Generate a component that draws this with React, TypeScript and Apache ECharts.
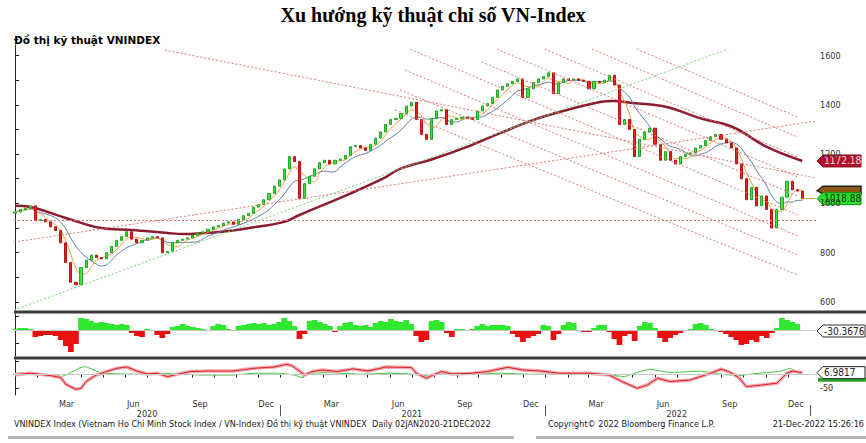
import React, { useEffect, useRef } from 'react';
import * as echarts from 'echarts';

// ---- DATA (weekly, week index 0 = 1 Jan 2020, last = 21 Dec 2022) ----
const firstOpen = 960;
const closes = [
  965, 975, 980, 990, 930, 935, 925, 905, 890, 840, 760, 680, 670,
  740, 770, 790, 780, 775, 800, 825, 850, 865, 885, 855, 840, 850,
  860, 865, 860, 800, 805, 840, 850, 855, 860, 870, 880, 885, 895,
  905, 910, 920, 925, 915, 935, 950, 960, 985, 995, 1015, 1040, 1070,
  1095, 1140, 1190, 1170, 1020, 1080, 1110, 1140, 1165, 1175, 1160, 1175, 1180,
  1195, 1230, 1235, 1225, 1215, 1240, 1265, 1290, 1320, 1340, 1345, 1365, 1395,
  1410, 1340, 1280, 1260, 1345, 1375, 1380, 1320, 1340, 1345, 1350, 1345, 1340,
  1375, 1395, 1405, 1430, 1460, 1475, 1485, 1495, 1505, 1430, 1465, 1490, 1505,
  1515, 1530, 1445, 1490, 1505, 1500, 1505, 1500, 1495, 1465, 1495, 1490, 1500,
  1520, 1480, 1320, 1340, 1300, 1190, 1260, 1290, 1305, 1240, 1175, 1210, 1175,
  1160, 1190, 1200, 1205, 1225, 1235, 1255, 1270, 1280, 1260, 1245, 1225, 1160,
  1100, 1015, 1065, 990, 1030, 975, 900, 975, 1025, 1090, 1055, 1050, 1018.88,
];

// 200-day moving average: [week, value]
const ma200 = [
  [0, 990], [3, 985], [10, 941], [17, 900], [23, 892], [30, 880], [33, 876], [40, 884],
  [46, 900], [53, 925], [56, 953], [66, 1040], [72.4, 1100], [75.8, 1140], [82.3, 1180],
  [89, 1229], [95.5, 1285], [102, 1338], [108.7, 1379], [115.2, 1411], [117.7, 1415],
  [121.7, 1407], [128.3, 1391], [134.8, 1346], [141.3, 1310], [148, 1229], [155, 1172.18],
];

// oscillator histogram (weekly)
const histogram = [
  30, 60, 60, 30, -210, -180, -150, -150, -180, -300, -480, -660, -420,
  360, 330, 270, 210, 240, 210, 180, 150, 180, 150, -90, -180, -210,
  30, 0, -150, -240, -120, 90, 120, 180, 120, 90, 60, 30, 0,
  120, 180, 150, 30, 0, 120, 150, 180, 210, 180, 210, 150, 180,
  240, 360, 270, 120, -270, -120, 270, 300, 240, 180, 120, -60, 120,
  210, 240, 150, 120, 150, 90, 210, 270, 240, 330, 270, 240, 300,
  180, -180, -360, -300, 270, 300, 240, -90, -210, 30, 30, -30, 30,
  120, 180, 120, 150, 150, 150, 120, -120, -210, -360, -240, -180, -120,
  150, 120, -300, -120, 150, 240, 210, -30, -60, -60, 60, 150, 150,
  -60, -270, -450, -180, -120, -330, 120, 240, 210, 60, -240, -360, -240,
  -150, -90, -30, 30, 180, 210, 150, 30, 0, -60, -120, -210, -300,
  -450, -420, -300, -360, -180, -240, -90, 60, 360, 300, 240, 180, -30.3676,
];

// lower panel lines: [week, value]
const redOsc = [
  [0, -1], [3, 5], [7, -4], [9, -11], [10, -36], [12, -55], [13, -51], [14, -26], [16, -2],
  [18, 11], [20, 23], [22, 28], [24, 13], [26, 2], [28, 5], [30, -8], [32, 1], [34.5, 11],
  [38, 13], [43, 13], [47, 23], [51, 28], [53.5, 38], [54.5, 33], [56, 13], [57, -2],
  [58.5, 11], [60.5, 17], [63.5, 11], [66.5, 21], [69.5, 13], [73, 28], [78, 26], [79, 5],
  [81, -14], [82, -4], [84, 11], [86, 2], [90, 5], [93, 11], [97, 27], [100, 17], [103.5, 13],
  [107, 5], [110, 5], [113, 5], [117, -2], [119.5, -26], [122.5, -51], [124.5, -39],
  [126.5, -14], [129, -26], [133, -20], [137, 5], [139, 20], [140.5, 11], [142.5, -11],
  [144, -45], [147, -39], [150, -32], [152, 5], [153, 13], [155, 6.9817],
];
const greenOsc = [
  [0, 5], [3, 7], [7, -2], [9, -8], [10, -2], [13, 27], [14, 29], [17, 5], [21, 2], [25, 1],
  [28.5, 5], [32.5, 2], [36.5, -2], [43, -2], [47, 5], [52, 5], [55, -2], [56.5, -11], [58, 5],
  [62, 7], [68, 1], [74, 5], [78, 2], [79.5, -2], [80.5, -4], [83.5, 5], [87.5, 2], [95.5, 5],
  [101.5, 1], [107, 2], [113, 5], [117, -2], [120, -8], [123, 11], [125, 20], [129, 7],
  [135, 13], [139, 1], [142.5, -4], [146.5, 5], [150.5, 11], [152.5, 23], [155, 5],
];

// drawn trend lines: [week1, value1, week2, value2]
const redTrendLines = [
  [29.5, 1622, 157.7, 1103],
  [122.4, 1626, 154.1, 1350],
  [113.6, 1626, 154.1, 1269],
  [104.3, 1626, 154.1, 1188],
  [94.9, 1626, 154.1, 1107],
  [91.9, 1574, 154.1, 1030],
  [77.8, 1626, 154.1, 953],
  [76.8, 1541, 154.1, 868],
  [75.8, 1460, 154.1, 791],
  [74.8, 1379, 154.1, 710],
  [-0.2, 843, 157.7, 1334],
  [-0.2, 933, 157.7, 933],
];
const greenTrendLines = [[-0.2, 567.5, 140.4, 1626]];

const priceTicks = [600, 700, 800, 900, 1000, 1100, 1200, 1300, 1400, 1500, 1600];
const priceLabels = [600, 800, 1000, 1200, 1400, 1600];
const quarterNames = ['Mar', 'Jun', 'Sep', 'Dec'];
const quarterMonths = [2, 5, 8, 11];
const years = [2020, 2021, 2022];
const lastPrice = 1018.88;
const lastMa200 = 1172.18;
const lastHist = -30.3676;
const lastOsc = 6.9817;

// ---- helpers ----
const weekOf = (y: number, m: number, d: number) =>
  (Date.UTC(y, m, d) - Date.UTC(2020, 0, 1)) / 86400000 / 7;
const XMIN = -0.2;
const XMAX = 157.7;

function sma(arr: number[], n: number) {
  return arr.map((_, i) => {
    const s = Math.max(0, i - n + 1);
    const sl = arr.slice(s, i + 1);
    return [i, sl.reduce((a, b) => a + b, 0) / sl.length];
  });
}

const FONT = '"DejaVu Sans Condensed", "Liberation Sans Narrow", "DejaVu Sans", sans-serif';

export default function App() {
  const ref = useRef<HTMLDivElement>(null);
  useEffect(() => {
    document.body.style.margin = '0';
    const chart = echarts.init(ref.current!, undefined, { renderer: 'svg' });

    const candles = closes.map((c, i) => {
      const o = i === 0 ? firstOpen : closes[i - 1];
      return [i, o, c, Math.min(o, c), Math.max(o, c)];
    });

    const monthTicks: number[] = [];
    for (const y of years) for (let m = 0; m < 12; m++) monthTicks.push(weekOf(y, m, 1));
    const labelVals: number[] = [];
    const labelMap: Record<string, string> = {};
    for (const y of years)
      quarterMonths.forEach((m, k) => {
        const v = weekOf(y, m, 12);
        labelVals.push(v);
        labelMap[v.toFixed(2)] = quarterNames[k];
      });
    const yearVals = years.map((y) => weekOf(y, 6, 1));
    const yearMap: Record<string, string> = {};
    years.forEach((y, i) => (yearMap[yearVals[i].toFixed(2)] = String(y)));
    const yearBounds = [weekOf(2021, 0, 1), weekOf(2022, 0, 1), weekOf(2023, 0, 1)];

    const hiddenX = (gi: number) => ({
      type: 'value', gridIndex: gi, min: XMIN, max: XMAX, show: false,
    });

    const mkLines = (lines: number[][], color: string) =>
      lines.map((l) => [
        { coord: [l[0], l[1]], lineStyle: { color, type: [2, 2], width: 1 } },
        { coord: [l[2], l[3]] },
      ]);

    const option: any = {
      animation: false,
      backgroundColor: '#fff',
      grid: [
        { left: 14, right: 50, top: 45, height: 265 },
        { left: 14, right: 50, top: 314, height: 42 },
        { left: 14, right: 50, top: 360, height: 35 },
      ],
      xAxis: [
        hiddenX(0),
        hiddenX(1),
        {
          type: 'value', gridIndex: 2, min: XMIN, max: XMAX, position: 'bottom',
          splitLine: { show: false },
          axisLine: { show: true, lineStyle: { color: '#222', width: 1 } },
          axisTick: { show: true, customValues: monthTicks, length: 3, lineStyle: { color: '#222' } },
          axisLabel: {
            show: true, customValues: labelVals, margin: 4, fontSize: 9, color: '#333', fontFamily: FONT,
            formatter: (v: number) => labelMap[v.toFixed(2)] ?? '',
          },
        },
        {
          type: 'value', gridIndex: 2, min: XMIN, max: XMAX, position: 'bottom', offset: 11,
          splitLine: { show: false }, axisLine: { show: false }, axisTick: { show: false },
          axisLabel: {
            show: true, customValues: yearVals, margin: 3, fontSize: 9, color: '#333', fontFamily: FONT,
            formatter: (v: number) => yearMap[v.toFixed(2)] ?? '',
          },
        },
        {
          type: 'value', gridIndex: 2, min: XMIN, max: XMAX, position: 'bottom', offset: 10,
          splitLine: { show: false }, axisLine: { show: false },
          axisTick: { show: true, customValues: yearBounds, length: 11, lineStyle: { color: '#555' } },
          axisLabel: { show: false },
        },
      ],
      yAxis: [
        {
          type: 'value', gridIndex: 0, position: 'right', min: 567.5, max: 1642.6,
          splitLine: { show: false },
          axisLine: { show: true, lineStyle: { color: '#222' } },
          axisTick: { show: true, customValues: priceTicks, length: 4, lineStyle: { color: '#222' } },
          axisLabel: {
            customValues: priceLabels, fontSize: 9, color: '#333', margin: 4, fontFamily: FONT,
            formatter: (v: number) => String(v),
          },
        },
        {
          type: 'value', gridIndex: 1, position: 'right', min: -780, max: 480,
          splitLine: { show: false },
          axisLine: { show: true, lineStyle: { color: '#222' } },
          axisTick: { show: true, customValues: [-400, 400], length: 4, lineStyle: { color: '#222' } },
          axisLabel: { show: false },
        },
        {
          type: 'value', gridIndex: 2, position: 'right', min: -76, max: 54,
          splitLine: { show: false },
          axisLine: { show: true, lineStyle: { color: '#222' } },
          axisTick: { show: true, customValues: [-50, 0, 50], length: 4, lineStyle: { color: '#222' } },
          axisLabel: {
            customValues: [-50], fontSize: 9, color: '#333', margin: 4, fontFamily: FONT,
            formatter: (v: number) => String(v),
          },
        },
      ],
      series: [
        {
          type: 'line', xAxisIndex: 0, yAxisIndex: 0, data: [], z: 1, silent: true,
          markLine: {
            silent: true, symbol: 'none', label: { show: false },
            data: [...mkLines(redTrendLines, '#e07878'), ...mkLines(greenTrendLines, '#70d870')],
          },
        },
        {
          type: 'line', xAxisIndex: 0, yAxisIndex: 0, data: ma200, z: 2,
          showSymbol: false, smooth: 0.4, lineStyle: { color: '#8c1c2e', width: 2.5 },
        },
        {
          type: 'line', xAxisIndex: 0, yAxisIndex: 0, data: sma(closes, 8), z: 3,
          showSymbol: false, smooth: 0.3, lineStyle: { color: '#5d7fa3', width: 1 },
        },
        {
          type: 'line', xAxisIndex: 0, yAxisIndex: 0, data: sma(closes, 4), z: 3,
          showSymbol: false, smooth: 0.3, lineStyle: { color: '#f0a040', width: 1 },
          markLine: {
            silent: true, symbol: 'none', label: { show: false },
            data: [[
              { coord: [closes.length - 1, lastPrice], lineStyle: { color: '#e8a040', type: 'solid', width: 1 } },
              { coord: [XMAX, lastPrice] },
            ]],
          },
        },
        {
          type: 'candlestick', xAxisIndex: 0, yAxisIndex: 0, data: candles, z: 4,
          encode: { x: 0, y: [1, 2, 3, 4] },
          barWidth: 2.6,
          itemStyle: { color: '#3fe03f', color0: '#e02424', borderColor: '#22a822', borderColor0: '#b81414', borderWidth: 1 },
        },
        {
          type: 'bar', xAxisIndex: 1, yAxisIndex: 1, barWidth: 5.7,
          data: histogram.map((v, i) => ({ value: [i, v], itemStyle: { color: v >= 0 ? '#2ee82e' : '#e81010' } })),
          markLine: {
            silent: true, symbol: 'none', label: { show: false },
            lineStyle: { color: '#c8c8c8', type: 'solid', width: 1 }, data: [{ yAxis: 0 }],
          },
        },
        {
          type: 'line', xAxisIndex: 2, yAxisIndex: 2, data: greenOsc, showSymbol: false,
          lineStyle: { color: '#44cc44', width: 1 },
          markLine: {
            silent: true, symbol: 'none', label: { show: false },
            lineStyle: { color: '#c8c8c8', type: 'solid', width: 1 }, data: [{ yAxis: 0 }],
          },
        },
        {
          type: 'line', xAxisIndex: 2, yAxisIndex: 2, data: redOsc, showSymbol: false,
          lineStyle: { color: '#f5a8b0', width: 3.5 },
        },
        {
          type: 'line', xAxisIndex: 2, yAxisIndex: 2, data: redOsc, showSymbol: false,
          lineStyle: { color: '#d42222', width: 1 },
        },
      ],
    };
    chart.setOption(option);

    const yPrice = (v: number) => chart.convertToPixel({ yAxisIndex: 0 }, v) as number;
    const yHist = (v: number) => chart.convertToPixel({ yAxisIndex: 1 }, v) as number;
    const yOsc = (v: number) => chart.convertToPixel({ yAxisIndex: 2 }, v) as number;

    const callout = (yc: number, x0: number, w: number, fill: string, stroke: string, text: string, color: string) => ({
      type: 'group',
      children: [
        {
          type: 'polygon',
          shape: { points: [[x0, yc], [x0 + 6, yc - 6], [x0 + w, yc - 6], [x0 + w, yc + 6], [x0 + 6, yc + 6]] },
          style: { fill, stroke, lineWidth: 1 },
        },
        {
          type: 'text', x: x0 + 7, y: yc,
          style: { text, fill: color, fontSize: 10, fontFamily: FONT, verticalAlign: 'middle', align: 'left' },
        },
      ],
    });

    const yL = yPrice(lastPrice);
    const graphic: any[] = [
      {
        type: 'text', x: 433, y: 15,
        style: {
          text: 'Xu hướng kỹ thuật chỉ số VN-Index', fill: '#000', fontSize: 20, fontWeight: 'bold',
          fontFamily: '"Liberation Serif", "Times New Roman", serif', align: 'center', verticalAlign: 'middle',
        },
      },
      {
        type: 'text', x: 14, y: 40,
        style: {
          text: 'Đồ thị kỹ thuật VNINDEX', fill: '#000', fontSize: 10.5, fontWeight: 'bold',
          fontFamily: '"DejaVu Sans", Verdana, sans-serif', align: 'left', verticalAlign: 'middle',
        },
      },
      { type: 'rect', shape: { x: 14, y: 310.5, width: 852, height: 3 }, style: { fill: '#3c3c3c' } },
      { type: 'rect', shape: { x: 14, y: 356.5, width: 852, height: 3 }, style: { fill: '#3c3c3c' } },
      callout(yPrice(lastMa200), 817, 44, '#b3122e', '#8a0c20', '1172.18', '#ffd6dc'),
      {
        type: 'polygon',
        shape: { points: [[817, yL - 8], [823, yL - 12.5], [861, yL - 12.5], [861, yL - 5], [823, yL - 5]] },
        style: { fill: '#8a5a10', stroke: '#222', lineWidth: 1.5 },
      },
      callout(yL, 817, 44, '#27e027', '#159015', '1018.88', '#063006'),
      callout(yHist(lastHist), 817, 48, '#fff', '#333', '-30.3676', '#222'),
      { type: 'rect', shape: { x: 818, y: yOsc(lastOsc) + 5, width: 48, height: 4 }, style: { fill: '#2aa52a' } },
      callout(yOsc(lastOsc), 817, 48, '#fff', '#222', '6.9817', '#222'),
      {
        type: 'text', x: 14, y: 424,
        style: {
          text: 'VNINDEX Index (Vietnam Ho Chi Minh Stock Index / VN-Index) Đồ thị kỹ thuật VNINDEX  Daily 02JAN2020-21DEC2022',
          fill: '#222', fontSize: 9, fontFamily: FONT, align: 'left', verticalAlign: 'middle',
        },
      },
      {
        type: 'text', x: 548, y: 424,
        style: { text: 'Copyright© 2022 Bloomberg Finance L.P.', fill: '#222', fontSize: 9, fontFamily: FONT, align: 'left', verticalAlign: 'middle' },
      },
      {
        type: 'text', x: 864, y: 424,
        style: { text: '21-Dec-2022 15:26:16', fill: '#222', fontSize: 9, fontFamily: FONT, align: 'right', verticalAlign: 'middle' },
      },
      { type: 'rect', shape: { x: 8, y: 436, width: 506, height: 3 }, style: { fill: '#b4b4b4' } },
      { type: 'rect', shape: { x: 536, y: 436, width: 330, height: 3 }, style: { fill: '#b4b4b4' } },
    ];
    chart.setOption({ graphic });

    return () => chart.dispose();
  }, []);
  return <div ref={ref} style={{ width: 866, height: 443 }} />;
}
